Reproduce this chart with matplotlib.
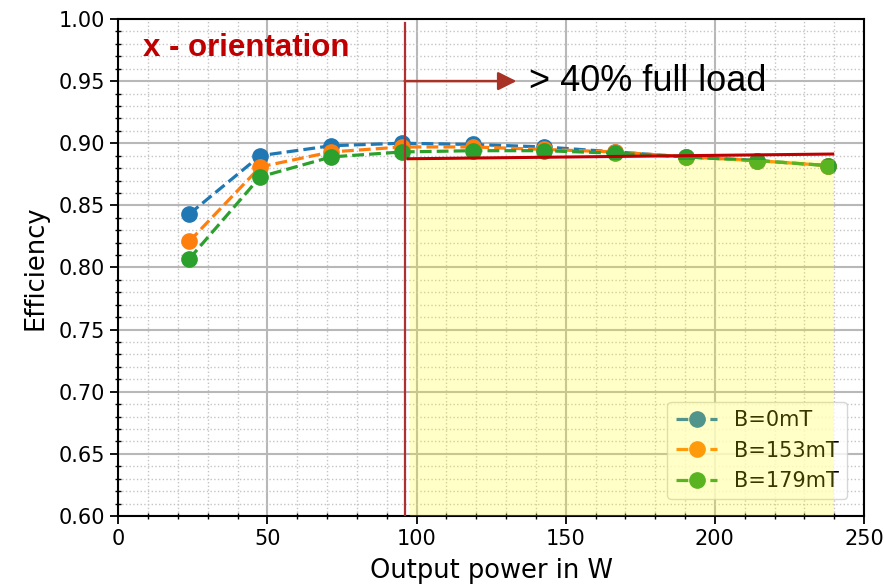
import matplotlib.pyplot as plt
import matplotlib.patches as patches
from matplotlib.ticker import MultipleLocator

# Output power (W) and efficiency for three field strengths
power = [23.8, 47.6, 71.4, 95.2, 119.0, 142.8, 166.6, 190.4, 214.2, 238.0]
eff_0mT = [0.843, 0.890, 0.898, 0.900, 0.899, 0.897, 0.893, 0.889, 0.886, 0.882]
eff_153mT = [0.821, 0.881, 0.893, 0.897, 0.897, 0.895, 0.893, 0.889, 0.886, 0.882]
eff_179mT = [0.807, 0.873, 0.889, 0.893, 0.894, 0.894, 0.892, 0.889, 0.886, 0.882]
labels = ['B=0mT', 'B=153mT', 'B=179mT']

# 40 % full load marker and the trend line drawn over the shaded region
load_40 = 96
trend_x = [97.2, 239.5]
trend_y = [0.8875, 0.8913]
shade_x = (97.8, 240)
shade_top = 0.8865

fig = plt.figure(figsize=(8.84, 5.86), dpi=100)
ax = fig.add_axes([0.1338, 0.1195, 0.8436, 0.8481])

colors = ['tab:blue', 'tab:orange', 'tab:green']
for ys, c, lab in zip([eff_0mT, eff_153mT, eff_179mT], colors, labels):
    ax.plot(power, ys, '--o', color=c, lw=2.3, markersize=11, label=lab)

ax.set_xlim(0, 250)
ax.set_ylim(0.60, 1.00)
ax.xaxis.set_major_locator(MultipleLocator(50))
ax.xaxis.set_minor_locator(MultipleLocator(10))
ax.yaxis.set_major_locator(MultipleLocator(0.05))
ax.yaxis.set_minor_locator(MultipleLocator(0.01))
ax.grid(which='major', color='#b8b8b8', lw=1.5)
ax.grid(which='minor', color='#c4c4c4', lw=1.0, ls=':')
ax.set_axisbelow(True)
ax.tick_params(which='major', labelsize=15, length=6, width=1.3, direction='out')
ax.tick_params(which='minor', length=5, width=1.0, direction='inout')
for s in ax.spines.values():
    s.set_linewidth(1.5)

ax.set_xlabel('Output power in W', fontsize=18.5, labelpad=6)
ax.set_ylabel('Efficiency', fontsize=18.5, labelpad=7)

ax.legend(loc='lower right', fontsize=15, borderaxespad=0.8)

# annotations
ax.plot([load_40, load_40], [0.597, 0.997], color='#b03030', lw=1.6, zorder=4)
ax.plot(trend_x, trend_y, color='#c00000', lw=2.2, zorder=4)
ax.annotate('', xy=(133.5, 0.95), xytext=(load_40, 0.95),
            arrowprops=dict(arrowstyle='-|>', color='#a93226', lw=1.8,
                            mutation_scale=28, shrinkA=0, shrinkB=0))
ax.text(137.6, 0.95, '> 40% full load', fontsize=26, family='Liberation Sans',
        va='center', ha='left')
ax.text(8.3, 0.977, 'x - orientation', fontsize=22.5, family='Liberation Sans',
        fontweight='bold', color='#c00000', va='center', ha='left')

shade = patches.Rectangle((shade_x[0], 0.60), shade_x[1] - shade_x[0], shade_top - 0.60,
                          facecolor='yellow', edgecolor='none', alpha=0.22, zorder=10)
ax.add_patch(shade)

fig.savefig('out.png', dpi=100)
